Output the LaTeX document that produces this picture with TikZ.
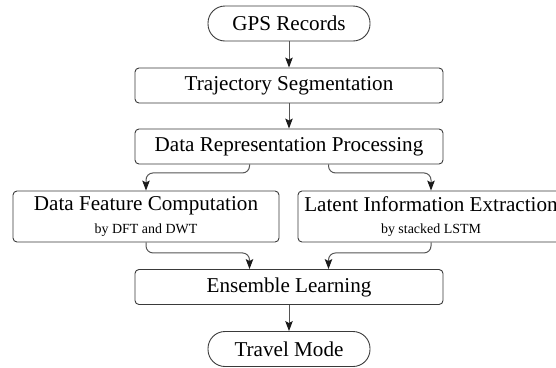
\documentclass[tikz,border=0pt]{standalone}
\usepackage{fontspec}
\setmainfont{Liberation Serif}
\usetikzlibrary{arrows.meta,calc}
\definecolor{boxline}{HTML}{3A3A3A}
\definecolor{connline}{HTML}{555555}
\definecolor{tipcol}{HTML}{1A1A1A}
\tikzset{
  x=1bp, y=-1bp,
  procbox/.style={draw=boxline, line width=0.9bp, rounded corners=4bp, minimum width=308bp, minimum height=35bp, inner sep=0pt, font=\fontsize{21.2}{24}\selectfont},
  pillbox/.style={draw=boxline, line width=0.9bp, rounded corners=17bp, minimum width=162bp, minimum height=35bp, inner sep=0pt, font=\fontsize{21.2}{24}\selectfont},
  widebox/.style={draw=boxline, line width=0.9bp, rounded corners=4bp, minimum width=266bp, minimum height=51bp, inner sep=0pt, align=center, font=\fontsize{21.2}{21}\selectfont},
  conn/.style={draw=connline, line width=1bp, rounded corners=7bp, -{Stealth[length=10bp,width=7.5bp,inset=2bp,color=tipcol]}},
}
\newcommand{\subtxt}[1]{{\fontsize{14}{16}\selectfont #1}}
\begin{document}
\begin{tikzpicture}
\useasboundingbox (0,0) rectangle (556,367);
\node[pillbox] (gps) at (289,23.5) {GPS Records};
\node[procbox] (ts) at (289,85.5) {Trajectory Segmentation};
\node[procbox] (drp) at (289,146.5) {Data Representation Processing};
\node[widebox] (dfc) at (146,216.5) {Data Feature Computation\\[1.5bp]\subtxt{by DFT and DWT}};
\node[widebox] (lie) at (431,216.5) {Latent Information Extraction\\[1.5bp]\subtxt{by stacked LSTM}};
\node[procbox] (el) at (289,287) {Ensemble Learning};
\node[pillbox] (tm) at (289,349) {Travel Mode};
\draw[conn] (gps.south) -- (ts.north);
\draw[conn] (ts.south) -- (drp.north);
\draw[conn] ([xshift=-39.5bp]drp.south) -- ++(0,8.5) -| (dfc.north);
\draw[conn] ([xshift=39.5bp]drp.south) -- ++(0,8.5) -| (lie.north);
\draw[conn] (dfc.south) -- ++(0,10.5) -| ([xshift=-39.5bp]el.north);
\draw[conn] (lie.south) -- ++(0,10.5) -| ([xshift=39.5bp]el.north);
\draw[conn] (el.south) -- (tm.north);
\end{tikzpicture}
\end{document}
